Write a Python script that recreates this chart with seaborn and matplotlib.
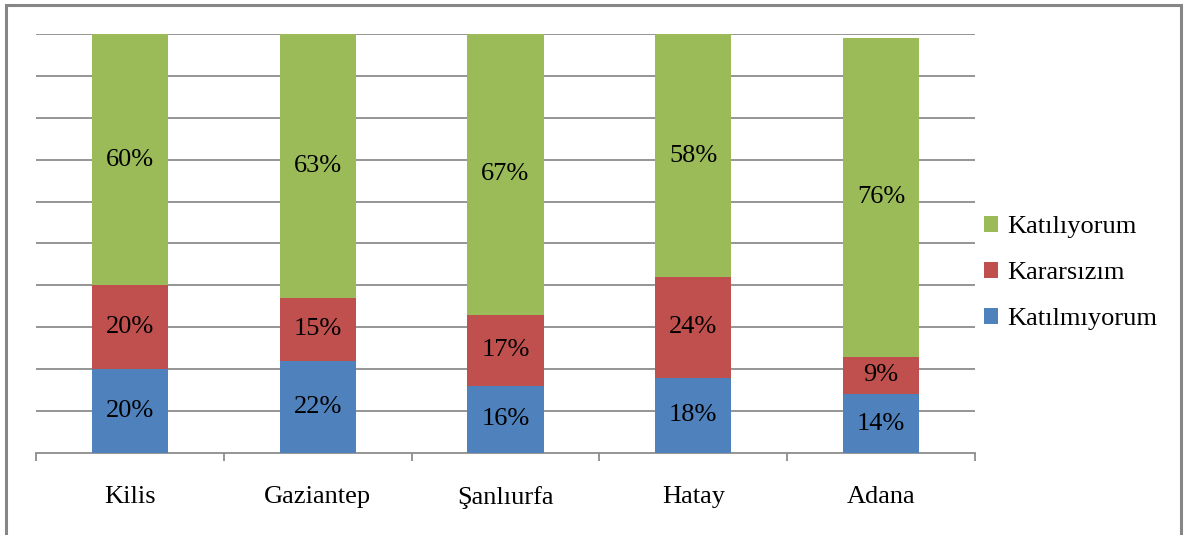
import numpy as np
import pandas as pd
import seaborn as sns
import matplotlib.pyplot as plt
from matplotlib.patches import Rectangle, Patch

sns.set_theme(style="white")
plt.rcParams['font.family'] = ['Liberation Serif', 'DejaVu Serif']

# veriler (yüzde)
sehirler = ['Kilis', 'Gaziantep', 'Şanlıurfa', 'Hatay', 'Adana']
katilmiyorum = [20, 22, 16, 18, 14]
kararsizim = [20, 15, 17, 24, 9]
katiliyorum = [60, 63, 67, 58, 76]

seriler = ['Katılmıyorum', 'Kararsızım', 'Katılıyorum']
renkler = ['#4F81BD', '#C0504D', '#9BBB59']

df = pd.DataFrame({'sehir': sehirler,
                   'Katılmıyorum': katilmiyorum,
                   'Kararsızım': kararsizim,
                   'Katılıyorum': katiliyorum})

fig = plt.figure(figsize=(11.84, 5.35), dpi=100)
ax = fig.add_axes([36/1184, 1-453/535, (975-36)/1184, (453-34)/535])

alt = np.zeros(len(sehirler))
for seri, renk in zip(seriler, renkler):
    sns.barplot(x='sehir', y=seri, data=df, color=renk, bottom=alt,
                width=0.405, ax=ax, saturation=1, zorder=3, linewidth=0)
    for i, v in enumerate(df[seri]):
        ax.text(i, alt[i] + v/2, f'{v}%', ha='center', va='center',
                fontsize=19, color='black', zorder=4)
    alt = alt + df[seri].values

ax.set_xlim(-0.5, len(sehirler) - 0.5)
ax.set_ylim(0, 100)
ax.set_yticks(np.arange(10, 101, 10))
ax.set_yticklabels([])
ax.tick_params(axis='y', length=0)
ax.yaxis.grid(True, color='#8c8c8c', linewidth=1.3, zorder=0)
ax.xaxis.grid(False)
for s in ['left', 'right', 'top']:
    ax.spines[s].set_visible(False)
ax.spines['bottom'].set_color('#8c8c8c')
ax.spines['bottom'].set_linewidth(1.3)

ax.set_xlabel('')
ax.set_ylabel('')
ax.set_xticks(range(len(sehirler)))
ax.set_xticklabels(sehirler, fontsize=19, color='black')
ax.tick_params(axis='x', which='major', length=0, pad=24)
ax.set_xticks(np.arange(-0.5, len(sehirler), 1), minor=True)
ax.tick_params(axis='x', which='minor', length=6, width=1.3,
               color='#8c8c8c', direction='out', bottom=True)

handles = [Patch(facecolor=r, label=s, linewidth=0) for s, r in zip(seriler, renkler)][::-1]
fig.legend(handles=handles, loc='center left',
           bbox_to_anchor=(960/1184, 1-273/535), frameon=False,
           fontsize=19, handlelength=0.55, handleheight=0.55,
           handletextpad=0.35, labelspacing=0.9, labelcolor='black')

fig.patches.append(Rectangle((6/1184, -0.02), (1181-6)/1184, 1-5/535+0.02,
                             transform=fig.transFigure, fill=False,
                             edgecolor='#868686', linewidth=2.2))

fig.savefig('out.png', dpi=100)
